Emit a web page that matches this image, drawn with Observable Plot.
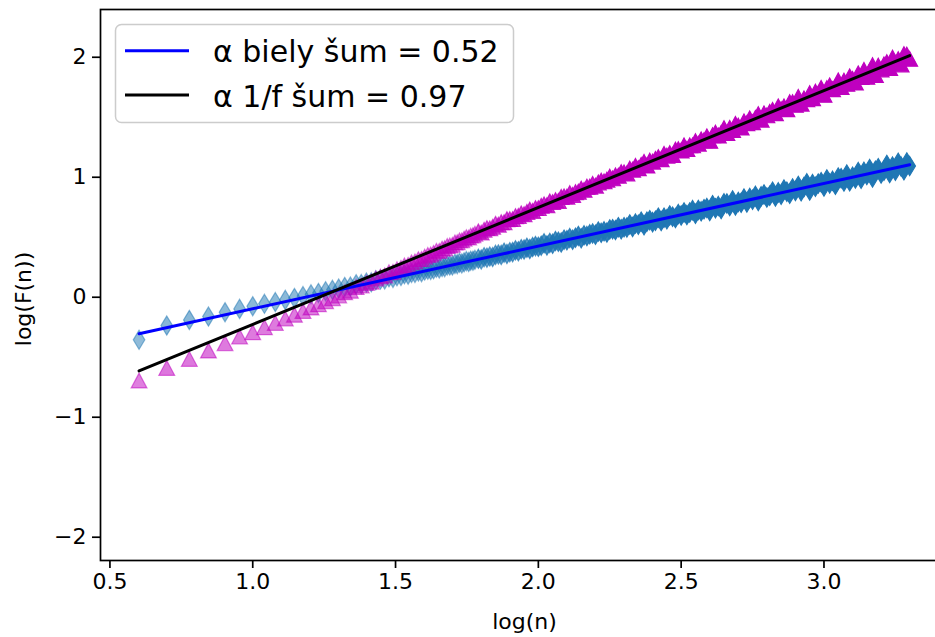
<!DOCTYPE html>
<html><head><meta charset="utf-8">
<script src="https://cdn.jsdelivr.net/npm/d3@7"></script>
<script src="https://cdn.jsdelivr.net/npm/@observablehq/plot@0.6"></script>
<style>
html,body{margin:0;padding:0;overflow:hidden;background:#fff}
#chart{position:relative;width:935px;height:637px;overflow:hidden}
#chart svg{max-width:none !important}
</style>
</head><body><div id="chart"></div>
<script>
// log(n) of the window sizes
const logN = [0.602,0.699,0.778,0.845,0.903,0.954,1.000,1.041,1.079,1.114,1.146,1.176,1.204,1.230,1.255,1.279,1.301,
1.322,1.342,1.362,1.380,1.398,1.415,1.431,1.447,1.462,1.477,1.491,1.505,1.519,1.531,1.544,1.556,1.568,1.580,1.591,1.602,
1.613,1.623,1.633,1.643,1.653,1.663,1.672,1.681,1.690,1.699,1.708,1.716,1.724,1.732,1.740,1.748,1.756,1.763,1.771,1.778,
1.79,1.80,1.81,1.82,1.83,1.84,1.85,1.86,1.87,1.88,
1.89,1.90,1.91,1.92,1.93,1.94,1.95,1.96,1.97,1.98,
1.99,2.00,2.01,2.02,2.03,2.04,2.05,2.06,2.07,2.08,
2.09,2.10,2.11,2.12,2.13,2.14,2.15,2.16,2.17,2.18,
2.19,2.20,2.21,2.22,2.23,2.24,2.25,2.26,2.27,2.28,
2.29,2.30,2.31,2.32,2.33,2.34,2.35,2.36,2.37,2.38,
2.39,2.40,2.41,2.42,2.43,2.44,2.45,2.46,2.47,2.48,
2.49,2.50,2.51,2.52,2.53,2.54,2.55,2.56,2.57,2.58,
2.59,2.60,2.61,2.62,2.63,2.64,2.65,2.66,2.67,2.68,
2.69,2.70,2.71,2.72,2.73,2.74,2.75,2.76,2.77,2.78,
2.79,2.80,2.81,2.82,2.83,2.84,2.85,2.86,2.87,2.88,
2.89,2.90,2.91,2.92,2.93,2.94,2.95,2.96,2.97,2.98,
2.99,3.00,3.01,3.02,3.03,3.04,3.05,3.06,3.07,3.08,
3.09,3.10,3.11,3.12,3.13,3.14,3.15,3.16,3.17,3.18,
3.19,3.20,3.21,3.22,3.23,3.24,3.25,3.26,3.27,3.28,
3.29,3.30];

// log(F(n)) for white noise (blue diamonds)
const whiteY = [-0.355,-0.236,-0.189,-0.161,-0.125,-0.097,-0.075,-0.055,-0.040,-0.022,-0.006,0.010,0.024,0.036,0.050,0.062,0.072,
0.086,0.089,0.108,0.110,0.122,0.124,0.141,0.147,0.148,0.166,
0.161,0.175,0.178,0.191,0.188,0.202,0.202,0.215,0.209,0.222,
0.229,0.227,0.233,0.246,0.240,0.252,0.251,0.265,0.264,0.264,
0.278,0.276,0.287,0.282,0.291,0.301,0.293,0.305,0.304,0.312,
0.320,0.315,0.334,0.330,0.339,0.335,0.353,0.356,0.353,0.371,
0.361,0.375,0.376,0.391,0.384,0.400,0.398,0.412,0.402,0.418,
0.426,0.420,0.430,0.449,0.432,0.452,0.445,0.468,0.463,0.457,
0.480,0.475,0.493,0.480,0.496,0.511,0.492,0.516,0.510,0.524,
0.531,0.521,0.547,0.537,0.549,0.539,0.565,0.567,0.560,0.584,
0.567,0.584,0.581,0.607,0.586,0.614,0.605,0.630,0.601,0.630,
0.642,0.626,0.638,0.663,0.636,0.663,0.650,0.682,0.671,0.660,
0.693,0.682,0.707,0.685,0.706,0.726,0.695,0.727,0.716,0.734,
0.743,0.719,0.767,0.742,0.760,0.735,0.783,0.781,0.761,0.806,
0.764,0.794,0.787,0.822,0.790,0.827,0.813,0.845,0.803,0.841,
0.856,0.831,0.846,0.879,0.839,0.874,0.855,0.897,0.880,0.863,
0.906,0.886,0.927,0.884,0.918,0.949,0.890,0.943,0.920,0.947,
0.959,0.922,0.982,0.949,0.970,0.937,0.997,0.992,0.965,1.022,
0.966,1.004,0.989,1.043,0.988,1.045,1.018,1.068,0.997,1.054,
1.075,1.032,1.054,1.103,1.036,1.089,1.054,1.120,1.089,1.058,
1.123,1.093];

// log(F(n)) for 1/f noise (magenta triangles)
const pinkY = [-0.694,-0.589,-0.514,-0.444,-0.383,-0.328,-0.292,-0.250,-0.214,-0.178,-0.146,-0.115,-0.086,-0.059,-0.033,-0.008,0.015,
0.041,0.054,0.085,0.097,0.119,0.130,0.157,0.172,0.182,0.208,
0.212,0.233,0.245,0.265,0.270,0.291,0.299,0.318,0.319,0.338,
0.353,0.357,0.370,0.387,0.387,0.405,0.409,0.427,0.432,0.437,
0.456,0.458,0.474,0.474,0.488,0.501,0.497,0.514,0.517,0.529,
0.549,0.539,0.562,0.576,0.574,0.587,0.612,0.604,0.625,0.625,
0.650,0.651,0.651,0.676,0.677,0.698,0.692,0.711,0.729,0.719,
0.743,0.743,0.762,0.774,0.767,0.799,0.793,0.809,0.803,0.835,
0.841,0.838,0.868,0.853,0.876,0.879,0.905,0.895,0.921,0.921,
0.945,0.930,0.957,0.971,0.966,0.980,1.005,0.991,1.016,1.013,
1.042,1.040,1.032,1.072,1.063,1.095,1.075,1.103,1.128,1.098,
1.138,1.130,1.153,1.167,1.151,1.195,1.180,1.200,1.186,1.230,
1.233,1.223,1.265,1.236,1.266,1.266,1.300,1.280,1.315,1.309,
1.341,1.304,1.351,1.372,1.348,1.369,1.409,1.369,1.412,1.394,
1.445,1.430,1.414,1.466,1.451,1.491,1.459,1.494,1.526,1.480,
1.532,1.516,1.545,1.561,1.534,1.591,1.568,1.591,1.567,1.625,
1.626,1.604,1.669,1.613,1.657,1.650,1.701,1.659,1.714,1.696,
1.744,1.687,1.742,1.766,1.734,1.757,1.806,1.752,1.804,1.779,
1.841,1.819,1.789,1.866,1.835,1.894,1.837,1.887,1.933,1.852,
1.930,1.899,1.940,1.959,1.910,1.996,1.952,1.984,1.940,2.026,
2.022,1.987];

// fitted lines: slope (alpha) and intercept
const fitSeries = ["biely šum", "1/f šum"];
const fitAlpha = [0.522, 0.974];
const fitIntercept = [-0.618, -1.200];
const fitColors = ["#0000ff", "#000000"];
const legendLabels = ["α biely šum = 0.52", "α 1/f šum = 0.97"];

const xTicks = [0.5, 1.0, 1.5, 2.0, 2.5, 3.0];
const yTicks = [-2, -1, 0, 1, 2];

const N = Math.min(logN.length, whiteY.length, pinkY.length);
// each listed point stands for the integer window sizes n between it and its neighbour:
// overlap of that many markers of alpha 0.5 gives the point's opacity
const weight = d3.range(N).map(i => i === 0 ? 1 :
  Math.max(1, (logN[i] - logN[i - 1]) * Math.pow(10, logN[i]) * Math.LN10));
const alphaOf = w => 1 - Math.pow(0.5, w);
const white = d3.range(N).map(i => ({x: logN[i], y: whiteY[i], a: alphaOf(weight[i])}));
const pink = d3.range(N).map(i => ({x: logN[i], y: pinkY[i], a: alphaOf(weight[i])}));
const xEnds = [logN[0], logN[N - 1]];
const fits = fitSeries.map((s, i) => xEnds.map(x => ({x, y: fitAlpha[i] * x + fitIntercept[i], s})));

const thinDiamond = {draw(c) { c.moveTo(0, -9.6); c.lineTo(5.8, 0); c.lineTo(0, 9.6); c.lineTo(-5.8, 0); c.closePath(); }};
const triUp = {draw(c) { c.moveTo(0, -7.4); c.lineTo(7.9, 7.4); c.lineTo(-7.9, 7.4); c.closePath(); }};

const chart = Plot.plot({
  width: 960, height: 637,
  marginLeft: 100, marginRight: 12, marginTop: 9, marginBottom: 77,
  style: {fontFamily: "DejaVu Sans", fontSize: "22px", color: "#000", background: "#fff", maxWidth: "none"},
  x: {domain: [0.467, 3.436]},
  y: {domain: [-2.194, 2.398]},
  marks: [
    Plot.dot(white, {x: "x", y: "y", symbol: thinDiamond, fill: "#1f77b4", fillOpacity: "a", stroke: "#1f77b4", strokeOpacity: "a", strokeWidth: 1.2}),
    Plot.dot(pink, {x: "x", y: "y", symbol: triUp, fill: "#bf00bf", fillOpacity: "a", stroke: "#bf00bf", strokeOpacity: "a", strokeWidth: 1.2}),
    Plot.line(fits[0], {x: "x", y: "y", stroke: fitColors[0], strokeWidth: 3}),
    Plot.line(fits[1], {x: "x", y: "y", stroke: fitColors[1], strokeWidth: 3}),
    Plot.frame({stroke: "#000", strokeWidth: 1.7}),
    Plot.axisX({ticks: xTicks, tickFormat: d3.format(".1f"), tickSize: 8, tickPadding: 5, label: null, fontSize: 22, strokeWidth: 1.7}),
    Plot.axisY({ticks: yTicks, tickFormat: d3.format("d"), tickSize: 8, tickPadding: 6, label: null, fontSize: 22, strokeWidth: 1.7}),
    Plot.text(["log(n)"], {text: d => d, frameAnchor: "bottom", dy: 68, fontSize: 22}),
    Plot.text(["log(F(n))"], {text: d => d, frameAnchor: "left", dx: -77, dy: 14, rotate: -90, textAnchor: "middle", fontSize: 22})
  ]
});
chart.style.maxWidth = "none";
document.getElementById("chart").appendChild(chart);

// legend
const svg = d3.select(chart);
const lg = svg.append("g").attr("text-anchor", "start");
lg.append("rect").attr("x", 115.5).attr("y", 24.5).attr("width", 398).attr("height", 98).attr("rx", 6)
  .attr("fill", "#fff").attr("fill-opacity", 0.8).attr("stroke", "#cccccc").attr("stroke-width", 1.5);
const rowY = [50.7, 95];
legendLabels.forEach((label, i) => {
  lg.append("line").attr("x1", 125).attr("x2", 189).attr("y1", rowY[i]).attr("y2", rowY[i])
    .attr("stroke", fitColors[i]).attr("stroke-width", 3);
  lg.append("text").attr("x", 213).attr("y", rowY[i] + 11.5).attr("font-size", 30)
    .attr("text-anchor", "start").attr("font-family", "DejaVu Sans").attr("fill", "#000").text(label);
});
</script>
</body></html>
